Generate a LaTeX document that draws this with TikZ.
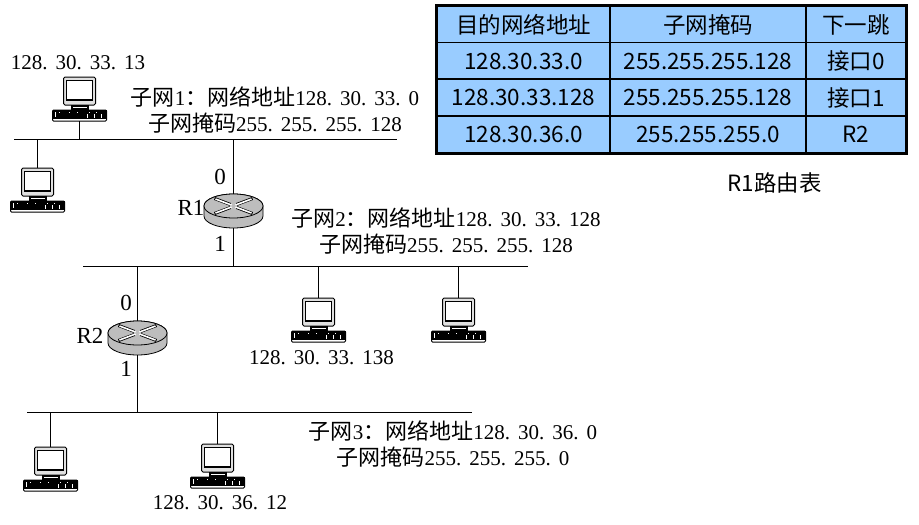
\documentclass[tikz,border=0pt]{standalone}
\usepackage{fontspec}
\setmainfont[WordSpace=1.2]{Liberation Serif}
\newfontfamily\cjk{Noto Sans CJK SC}
\usetikzlibrary{positioning,calc}
\definecolor{cellblue}{HTML}{99CCFF}
\definecolor{routergray}{HTML}{BDBDBD}
\newcommand{\zh}[1]{{\cjk\fontsize{22}{26}\selectfont #1}}
\tikzset{
  bus/.style={line width=1pt},
  lbl/.style={font=\fontsize{21}{26}\selectfont, align=center, inner sep=0pt},
  port/.style={font=\fontsize{23}{26}\selectfont, inner sep=0pt},
  cell/.style={draw, line width=1.8pt, fill=cellblue, inner sep=0pt, minimum height=37pt, font=\cjk\fontsize{22.5}{26}\selectfont},
  pics/pc/.style={code={
    \coordinate (-top) at (0,0);
    \coordinate (-bot) at (0,44);
    \draw[line width=1pt, fill=black!12, rounded corners=1.5pt] (-16,0) rectangle (16,28);
    \draw[line width=1.6pt, fill=white] (-13,3.5) rectangle (13,23);
    \fill (-9,28) rectangle (9,33);
    \fill[white] (-7,29.5) rectangle (7,30.5);
    \draw[line width=1pt, fill=white, rounded corners=1pt] (-27,33) rectangle (27,44);
    \fill (-27,33) rectangle (27,42);
    \foreach \kx in {-21,-11,-3,9,16} \fill[white] (\kx,34.5) rectangle ++(1,1);
    \foreach \kx in {7,14,21} \fill[white] (\kx,36.5) rectangle ++(0.8,4);
    \fill[white] (-25,35) rectangle (-24,40);
  }},
  pics/router/.style={code={
    \coordinate (-top) at (0,-17);
    \coordinate (-bot) at (0,17);
    \draw[line width=0.8pt, fill=routergray] (-29.5,-5) -- (-29.5,5) arc[start angle=180, end angle=0, x radius=29.5, y radius=12] -- (29.5,-5) arc[start angle=0, end angle=-180, x radius=29.5, y radius=12];
    \draw[line width=0.8pt, fill=routergray] (0,-5) ellipse[x radius=29.5, y radius=12];
    \foreach \sx/\sy in {1/1,-1/1,1/-1,-1/-1} {
      \draw[line width=3pt] (3*\sx,-5+1.5*\sy) -- (19*\sx,-5+7.5*\sy);
      \draw[white, line width=1.6pt] (2*\sx,-5+1*\sy) -- (18*\sx,-5+7*\sy);
    }
  }},
}
\begin{document}
\begin{tikzpicture}[x=1pt, y=-1pt]
  \useasboundingbox (0,0) rectangle (919,525);
  % networks
  \coordinate (bus1w) at (14,139);
  \coordinate (bus1e) at (397,139);
  \coordinate (bus2w) at (83,266);
  \coordinate (bus2e) at (528,266);
  \coordinate (bus3w) at (27,412);
  \coordinate (bus3e) at (472,412);
  \draw[bus] (bus1w) -- (bus1e);
  \draw[bus] (bus2w) -- (bus2e);
  \draw[bus] (bus3w) -- (bus3e);
  % routers
  \pic (r1) at (233.5,211) {router};
  \pic (r2) at (137.5,338) {router};
  \draw[bus] (r1-top) -- (r1-top |- bus1w);
  \draw[bus] (r1-bot) -- (r1-bot |- bus2w);
  \draw[bus] (r2-top) -- (r2-top |- bus2w);
  \draw[bus] (r2-bot) -- (r2-bot |- bus3w);
  % hosts
  \pic (pc1) at (79.5,77) {pc};
  \draw[bus] (pc1-bot) -- (pc1-bot |- bus1w);
  \foreach \n/\x/\y/\b in {pc2/37.5/168/bus1w, pc3/318.5/298/bus2w, pc4/458.5/298/bus2w, pc5/50.5/447/bus3w, pc6/217.5/444/bus3w} {
    \pic (\n) at (\x,\y) {pc};
    \draw[bus] (\n-top) -- (\n-top |- \b);
  }
  % labels
  \node[port] (r1name) at (191,208) {R1};
  \node[port] (r1p0) at (220,177) {0};
  \node[port] (r1p1) at (220,244) {1};
  \node[port] (r2name) at (90,336) {R2};
  \node[port] (r2p0) at (126,303) {0};
  \node[port] (r2p1) at (126,369) {1};
  \node[lbl] (ip1) at (78,63) {128. 30. 33. 13};
  \node[lbl] (ip2) at (321.5,358) {128. 30. 33. 138};
  \node[lbl] (ip3) at (220,503) {128. 30. 36. 12};
  \node[lbl] (net1) at (275,109.5) {\zh{子网}1\zh{：网络地址}128. 30. 33. 0\\\zh{子网掩码}255. 255. 255. 128};
  \node[lbl] (net2) at (446,231) {\zh{子网}2\zh{：网络地址}128. 30. 33. 128\\\zh{子网掩码}255. 255. 255. 128};
  \node[lbl] (net3) at (453,443.5) {\zh{子网}3\zh{：网络地址}128. 30. 36. 0\\\zh{子网掩码}255. 255. 255. 0};
  % routing table
  \foreach \r/\y/\da/\mk/\hop in {0/24.5/目的网络地址/子网掩码/下一跳, 1/61/128.30.33.0/255.255.255.128/接口0, 2/97.5/128.30.33.128/255.255.255.128/接口1, 3/134.5/128.30.36.0/255.255.255.0/R2} {
    \node[cell, minimum width=173pt] (a\r) at (523.5,\y) {\da};
    \node[cell, minimum width=196pt] (b\r) at (708,\y) {\mk};
    \node[cell, minimum width=100pt] (c\r) at (856,\y) {\hop};
  }
  \draw[line width=3pt] (a0.north west) rectangle (c3.south east);
  \node[font=\cjk\fontsize{22.4}{26}\selectfont, inner sep=0pt] (caption) at (774.5,183) {R1路由表};
\end{tikzpicture}
\end{document}
